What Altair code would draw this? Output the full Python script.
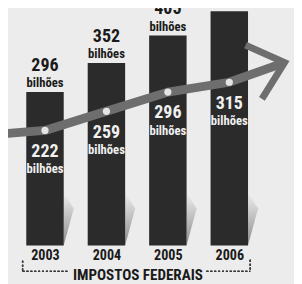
import altair as alt
import pandas as pd

# ---- data ----
years = [2003, 2004, 2005, 2006]
totals = [296, 352, 405, 452]          # IMPOSTOS FEDERAIS (bar height)
inner_values = [222, 259, 296, 315]    # values along the arrow
arrow_tail = [2002.36, 216]            # start of the arrow (year, value)
arrow_tip = [2006.9, 353]              # tip of the arrow (year, value)
unit = "bilhões"
axis_title = "IMPOSTOS FEDERAIS"

FONT = "Roboto Condensed, Liberation Sans Narrow, Liberation Sans, Arial, sans-serif"
BG = "#ececec"
BAR = "#2b2b2b"
ARROW = "#6e6e6e"
INK = "#1a1a1a"
LIGHT = "#f0f0f0"

bars_df = pd.DataFrame({"ano": years, "valor": totals, "interno": inner_values})
bars_df["rot_total"] = bars_df["valor"].astype(str)
bars_df["rot_int"] = bars_df["interno"].astype(str)
bars_df["unid"] = unit

arrow_df = pd.DataFrame({
    "ano": [arrow_tail[0]] + years + [arrow_tip[0]],
    "valor": [arrow_tail[1]] + inner_values + [arrow_tip[1]],
    "ordem": list(range(len(years) + 2)),
})
tip_df = pd.DataFrame({"ano": [arrow_tip[0]], "valor": [arrow_tip[1]]})

X_SCALE = alt.Scale(domain=[2002.477, 2006.974], nice=False, zero=False)
Y_SCALE = alt.Scale(domain=[-67, 451], nice=False, zero=False)
AXIS = alt.Axis(
    values=years, format="d", grid=False, domain=False, ticks=False, tickSize=0,
    labelPadding=0, labelBaseline="alphabetic", labelFont=FONT, labelFontSize=14.5,
    labelFontWeight="bold", labelColor=INK, offset=-21,
    title=axis_title, titleFont=FONT, titleFontSize=15.5, titleFontWeight="bold",
    titleColor=INK, titleX=133, titleY=20, titleAlign="center",
    titleBaseline="alphabetic", labelFlush=False, labelOverlap=False,
)


def X(field="ano"):
    return alt.X(f"{field}:Q", scale=X_SCALE, axis=AXIS)


def Y(field):
    return alt.Y(f"{field}:Q", scale=Y_SCALE, axis=None)


base = alt.Chart(bars_df)

shadow = base.mark_point(
    shape="M 0.96 -2.7 L 1.48 -1.9 L 0.96 0 Z", size=1600, filled=True,
    strokeWidth=0, opacity=1,
    fill=alt.LinearGradient(gradient="linear", x1=0, y1=0, x2=0, y2=1,
                            stops=[alt.GradientStop(offset=0, color=BG),
                                   alt.GradientStop(offset=1, color="#8c8c8c")]),
).encode(x=X(), y=alt.Y("zero:Q", scale=Y_SCALE, axis=None)).transform_calculate(zero="0")

bars = base.mark_bar(size=38.5, color=BAR).encode(x=X(), y=Y("valor"), y2=alt.datum(0))

top_num = base.mark_text(font=FONT, fontSize=18.5, fontWeight="bold", color=INK,
                         baseline="alphabetic", dy=-22).encode(
    x=X(), y=Y("valor"), text="rot_total:N")
top_unit = base.mark_text(font=FONT, fontSize=13, fontWeight="bold", color=INK,
                          baseline="alphabetic", dy=-5).encode(
    x=X(), y=Y("valor"), text="unid:N")

shaft = alt.Chart(arrow_df).mark_line(color=ARROW, strokeWidth=9, strokeCap="butt",
                                      strokeJoin="round").encode(
    x=X(), y=Y("valor"), order="ordem:Q")
head = alt.Chart(tip_df).mark_point(
    shape="M -1 -0.87 L 0 0 L -1 0.87", filled=False, size=4400, angle=343,
    strokeWidth=7, color=ARROW, opacity=1, strokeJoin="miter").encode(
    x=X(), y=Y("valor"))

dots = base.mark_circle(size=55, color="#e4e4e4", opacity=1).encode(
    x=X(), y=Y("interno"))
in_num = base.mark_text(font=FONT, fontSize=18.5, fontWeight="bold", color=LIGHT,
                        baseline="alphabetic", dy=27).encode(
    x=X(), y=Y("interno"), text="rot_int:N")
in_unit = base.mark_text(font=FONT, fontSize=13, fontWeight="bold", color=LIGHT,
                         baseline="alphabetic", dy=44).encode(
    x=X(), y=Y("interno"), text="unid:N")

# dashed bracket around the axis title (annotation)
DASH = dict(color="#3a3a3a", strokeWidth=1.3, strokeDash=[2, 2])
br1 = alt.Chart(bars_df).mark_rule(**DASH).encode(
    x=alt.value(15), y=alt.value(256), y2=alt.value(267))
br2 = alt.Chart(bars_df).mark_rule(**DASH).encode(
    x=alt.value(15), x2=alt.value(62), y=alt.value(267))
br3 = alt.Chart(bars_df).mark_rule(**DASH).encode(
    x=alt.value(204), x2=alt.value(249), y=alt.value(267))
br4 = alt.Chart(bars_df).mark_rule(**DASH).encode(
    x=alt.value(249), y=alt.value(255), y2=alt.value(267))

chart = alt.layer(
    shadow, bars, top_num, top_unit, shaft, head, dots, in_num, in_unit,
    br1, br2, br3, br4
).properties(
    width=294, height=276, padding=0, background=BG,
    autosize=alt.AutoSizeParams(type="none"),
).configure_view(stroke=None)

chart.save("out.html", embed_options={"renderer": "svg", "actions": False})
